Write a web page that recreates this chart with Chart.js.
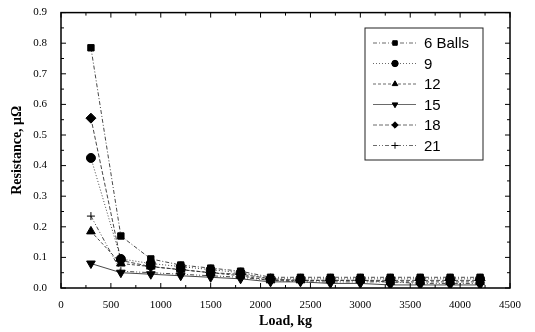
<!DOCTYPE html>
<html>
<head>
<meta charset="utf-8">
<script src="https://cdn.jsdelivr.net/npm/chart.js@4"></script>
<style>
  html, body { margin: 0; padding: 0; background: #fff; }
  #wrap { width: 535px; height: 332px; }
</style>
</head>
<body>
<div id="wrap"><canvas id="c" width="535" height="332"></canvas></div>
<script>
// data
const loads = [300, 600, 900, 1200, 1500, 1800, 2100, 2400, 2700, 3000, 3300, 3600, 3900, 4200];
const seriesNames = ['6 Balls', '9', '12', '15', '18', '21'];
const balls6  = [0.785, 0.17, 0.095, 0.075, 0.065, 0.055, 0.035, 0.035, 0.035, 0.035, 0.035, 0.035, 0.035, 0.035];
const balls9  = [0.425, 0.095, 0.08, 0.07, 0.06, 0.05, 0.03, 0.03, 0.03, 0.03, 0.03, 0.03, 0.03, 0.03];
const balls12 = [0.185, 0.08, 0.07, 0.06, 0.05, 0.04, 0.025, 0.025, 0.025, 0.025, 0.02, 0.02, 0.02, 0.02];
const balls15 = [0.08, 0.05, 0.045, 0.04, 0.035, 0.03, 0.02, 0.02, 0.015, 0.015, 0.01, 0.01, 0.01, 0.01];
const balls18 = [0.555, 0.09, 0.07, 0.06, 0.05, 0.045, 0.03, 0.025, 0.025, 0.025, 0.025, 0.025, 0.025, 0.025];
const balls21 = [0.235, 0.055, 0.05, 0.045, 0.04, 0.035, 0.025, 0.02, 0.02, 0.02, 0.02, 0.015, 0.015, 0.015];
const xTicks = [0, 500, 1000, 1500, 2000, 2500, 3000, 3500, 4000, 4500];
const yTicks = [0, 0.1, 0.2, 0.3, 0.4, 0.5, 0.6, 0.7, 0.8, 0.9];

const values = [balls6, balls9, balls12, balls15, balls18, balls21];
const styles = [
  { pt: 'rect', rot: 0, r: 4.5, dash: [4, 2, 1, 2] },
  { pt: 'circle', rot: 0, r: 4.5, dash: [1, 2] },
  { pt: 'triangle', rot: 0, r: 5, dash: [3, 2] },
  { pt: 'triangle', rot: 180, r: 5, dash: [] },
  { pt: 'rectRot', rot: 0, r: 5, dash: [4, 2] },
  { pt: 'cross', rot: 0, r: 4, dash: [4, 2, 1, 2, 1, 2] }
];

const datasets = seriesNames.map((name, i) => ({
  label: name,
  data: loads.map((x, j) => ({ x: x, y: values[i][j] })),
  showLine: true,
  borderColor: '#333',
  borderWidth: 0.9,
  borderDash: styles[i].dash,
  pointStyle: styles[i].pt,
  rotation: styles[i].rot,
  pointRadius: styles[i].r,
  pointBackgroundColor: '#000',
  pointBorderColor: '#000',
  pointBorderWidth: 1
}));

// frame with inward ticks, axis titles and boxed legend
const frame = {
  id: 'frame',
  afterDraw(chart) {
    const ctx = chart.ctx;
    const a = chart.chartArea;
    const xs = chart.scales.x, ys = chart.scales.y;
    ctx.save();
    ctx.strokeStyle = '#000';
    ctx.lineWidth = 1.5;
    ctx.strokeRect(a.left, a.top, a.right - a.left, a.bottom - a.top);
    ctx.lineWidth = 1;
    ctx.beginPath();
    for (let v = 0; v <= 4500; v += 250) {
      const px = xs.getPixelForValue(v);
      const len = (v % 500 === 0) ? 5 : 3;
      ctx.moveTo(px, a.bottom); ctx.lineTo(px, a.bottom - len);
      ctx.moveTo(px, a.top); ctx.lineTo(px, a.top + len);
    }
    for (let k = 0; k <= 18; k++) {
      const py = ys.getPixelForValue(k * 0.05);
      const len = (k % 2 === 0) ? 5 : 3;
      ctx.moveTo(a.left, py); ctx.lineTo(a.left + len, py);
      ctx.moveTo(a.right, py); ctx.lineTo(a.right - len, py);
    }
    ctx.stroke();

    ctx.fillStyle = '#000';
    ctx.font = 'bold 14px "Liberation Serif"';
    ctx.textAlign = 'center';
    ctx.textBaseline = 'middle';
    ctx.fillText('Load, kg', (a.left + a.right) / 2, 321);
    ctx.save();
    ctx.translate(17, (a.top + a.bottom) / 2);
    ctx.rotate(-Math.PI / 2);
    ctx.fillText('Resistance, μΩ', 0, 0);
    ctx.restore();

    // legend
    const lx = 365, ly = 28, lw = 118, lh = 132;
    ctx.lineWidth = 1;
    ctx.strokeStyle = '#222';
    ctx.fillStyle = '#fff';
    ctx.fillRect(lx, ly, lw, lh);
    ctx.strokeRect(lx, ly, lw, lh);
    chart.data.datasets.forEach((ds, i) => {
      const yy = ly + 15 + i * 20.5;
      ctx.strokeStyle = '#444';
      ctx.lineWidth = 0.8;
      ctx.setLineDash(ds.borderDash);
      ctx.beginPath();
      ctx.moveTo(lx + 8, yy); ctx.lineTo(lx + 51, yy);
      ctx.stroke();
      ctx.setLineDash([]);
      ctx.fillStyle = '#000';
      ctx.strokeStyle = '#000';
      ctx.lineWidth = 1;
      Chart.helpers.drawPoint(ctx, { pointStyle: ds.pointStyle, rotation: ds.rotation, radius: 3.2, borderWidth: 1 }, lx + 30, yy);
      ctx.fillStyle = '#000';
      ctx.font = '15px "Liberation Sans"';
      ctx.textAlign = 'left';
      ctx.fillText(ds.label, lx + 59, yy + 1);
    });
    ctx.restore();
  }
};

new Chart(document.getElementById('c'), {
  type: 'scatter',
  data: { datasets: datasets },
  options: {
    responsive: false,
    animation: false,
    layout: { padding: { top: 12, right: 25, left: 0, bottom: 0 } },
    plugins: { legend: { display: false }, tooltip: { enabled: false } },
    scales: {
      x: {
        min: 0, max: 4500,
        afterFit(s) { s.height = 44; },
        afterBuildTicks(s) { s.ticks = xTicks.map(v => ({ value: v })); },
        grid: { display: false },
        border: { display: false },
        ticks: { color: '#000', font: { family: 'Liberation Serif', size: 11 }, padding: 3, maxRotation: 0,
                 callback: v => String(v) }
      },
      y: {
        min: 0, max: 0.9,
        afterFit(s) { s.width = 61; },
        afterBuildTicks(s) { s.ticks = yTicks.map(v => ({ value: v })); },
        grid: { display: false },
        border: { display: false },
        ticks: { color: '#000', font: { family: 'Liberation Serif', size: 11 }, padding: 6,
                 callback: v => v.toFixed(1) }
      }
    }
  },
  plugins: [frame]
});
</script>
</body>
</html>
